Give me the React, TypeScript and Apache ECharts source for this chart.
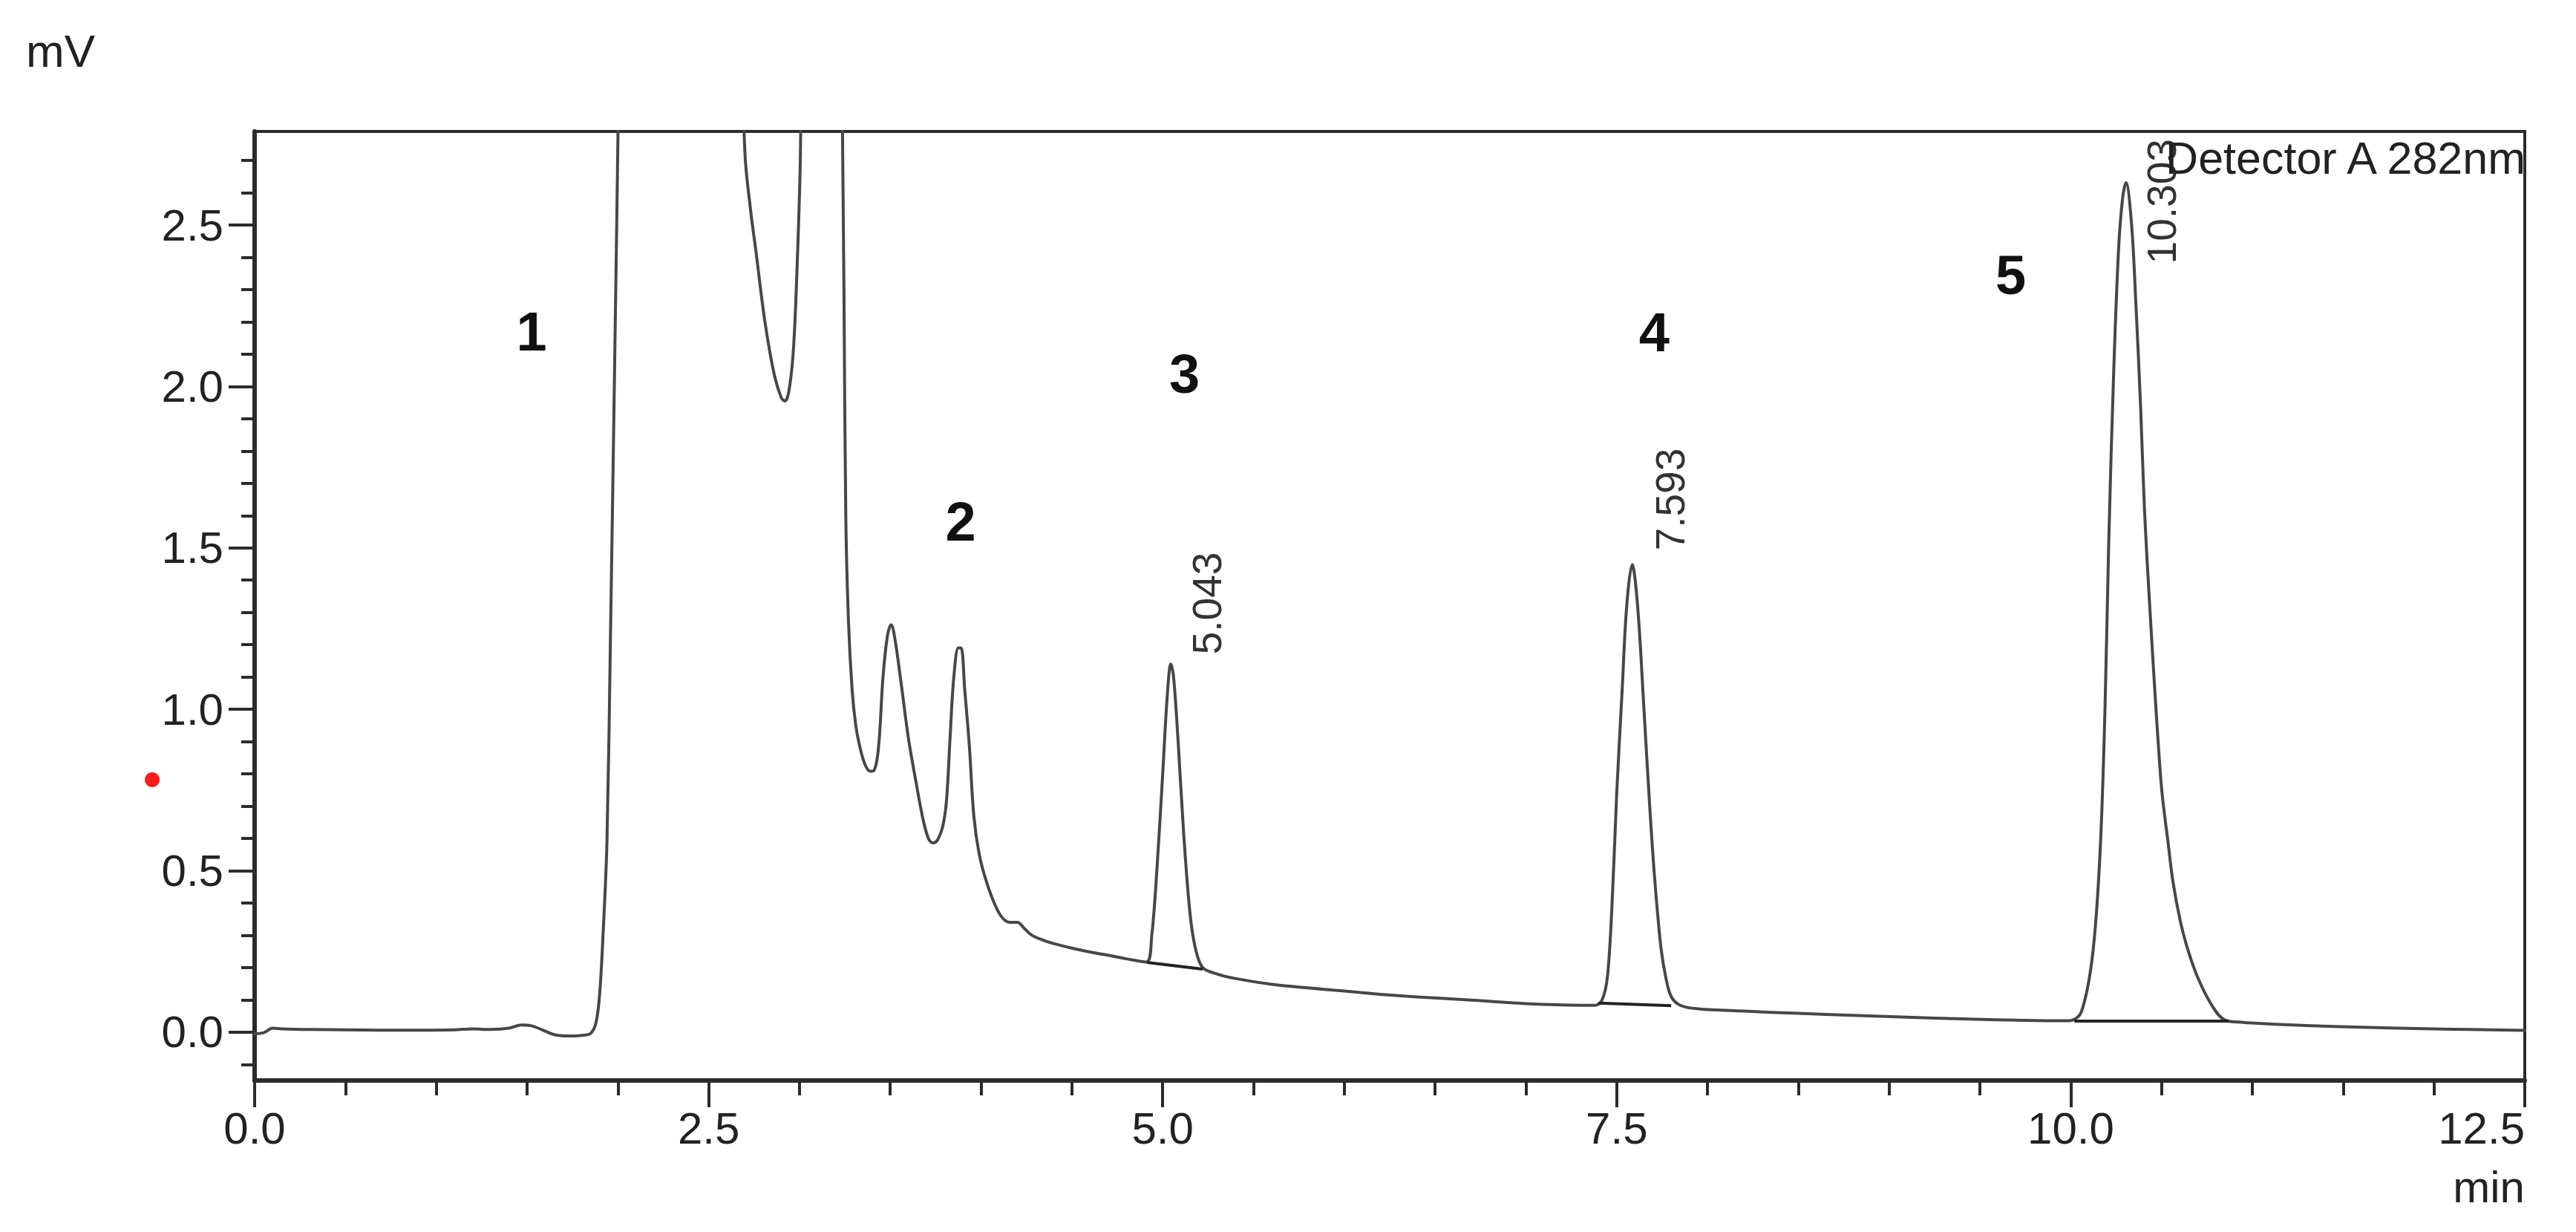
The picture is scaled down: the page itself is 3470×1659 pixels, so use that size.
import React, { useEffect, useRef } from "react";
import * as echarts from "echarts";

// Chromatogram trace (time in min, signal in mV)
const times = [
  0.0, 0.05, 0.1, 0.15, 0.3, 0.5, 0.7, 0.9, 1.1, 1.2, 1.3, 1.4, 1.47, 1.52, 1.58, 1.65, 1.72, 1.8, 1.85,
  1.88, 1.9, 1.92, 1.94, 1.96, 1.98, 2.0, 2.02, 2.1, 2.4, 2.62, 2.67, 2.7, 2.73, 2.76, 2.81, 2.86, 2.9,
  2.92, 2.94, 2.965, 2.985, 3.005, 3.02, 3.1, 3.2, 3.235, 3.245, 3.255, 3.27, 3.29, 3.31, 3.33, 3.36,
  3.39, 3.41, 3.435, 3.46, 3.485, 3.505, 3.525, 3.56, 3.6, 3.64, 3.68, 3.71, 3.735, 3.76, 3.79, 3.81,
  3.83, 3.85, 3.875, 3.89, 3.91, 3.935, 3.96, 3.99, 4.03, 4.08, 4.12, 4.16, 4.2, 4.24, 4.28, 4.34, 4.4,
  4.5, 4.6, 4.7, 4.8, 4.91, 4.94, 4.97, 5.0, 5.025, 5.045, 5.06, 5.085, 5.115, 5.15, 5.18, 5.22, 5.3,
  5.4, 5.6, 5.8, 6.0, 6.2, 6.4, 6.7, 7.0, 7.2, 7.38, 7.42, 7.45, 7.477, 7.5, 7.53, 7.555, 7.585, 7.615,
  7.65, 7.68, 7.707, 7.743, 7.77, 7.8, 7.85, 7.95, 8.2, 8.5, 8.8, 9.1, 9.4, 9.7, 9.95, 10.0, 10.059,
  10.12, 10.161, 10.188, 10.209, 10.236, 10.263, 10.285, 10.304, 10.334, 10.358, 10.385, 10.406, 10.433,
  10.461, 10.481, 10.502, 10.536, 10.563, 10.604, 10.645, 10.7, 10.78, 10.85, 10.95, 11.1, 11.3, 11.6,
  12.0, 12.5,
];
const values = [
  -0.005, -0.002, 0.012, 0.01, 0.008, 0.007, 0.006, 0.006, 0.007, 0.01, 0.008, 0.012, 0.022, 0.02, 0.008,
  -0.008, -0.012, -0.01, -0.004, 0.03, 0.12, 0.32, 0.59, 1.25, 1.98, 2.75, 3.6, 6, 8, 5, 3.3, 2.72, 2.55,
  2.42, 2.2, 2.04, 1.965, 1.955, 1.98, 2.1, 2.34, 2.71, 3.4, 6, 5, 2.9, 2.3, 1.6, 1.27, 1.06, 0.95, 0.89,
  0.83, 0.808, 0.81, 0.88, 1.1, 1.23, 1.262, 1.22, 1.08, 0.91, 0.78, 0.66, 0.6, 0.586, 0.595, 0.64, 0.72,
  0.92, 1.1, 1.19, 1.19, 1.06, 0.89, 0.67, 0.55, 0.465, 0.39, 0.352, 0.34, 0.34, 0.32, 0.3, 0.285, 0.274,
  0.26, 0.248, 0.238, 0.227, 0.217, 0.3, 0.52, 0.8, 1.04, 1.14, 1.1, 0.9, 0.62, 0.37, 0.26, 0.2, 0.18,
  0.166, 0.148, 0.137, 0.127, 0.117, 0.109, 0.099, 0.088, 0.084, 0.083, 0.1, 0.177, 0.43, 0.74, 1.06,
  1.32, 1.448, 1.32, 1.0, 0.715, 0.49, 0.264, 0.17, 0.11, 0.083, 0.072, 0.065, 0.058, 0.052, 0.046, 0.041,
  0.037, 0.035, 0.036, 0.063, 0.238, 0.552, 0.989, 1.513, 2.037, 2.421, 2.58, 2.631, 2.509, 2.264, 1.932,
  1.618, 1.338, 1.076, 0.901, 0.744, 0.587, 0.465, 0.342, 0.255, 0.168, 0.08, 0.037, 0.03, 0.025, 0.02,
  0.015, 0.01, 0.005,
];

// Integration baselines drawn under peaks 3, 4 and 5: [t1, v1, t2, v2]
const baselineSegments = [
  [4.914, 0.216, 5.22, 0.195],
  [7.4, 0.09, 7.8, 0.082],
  [10.02, 0.034, 10.87, 0.034],
];

// Retention-time labels
const rtTexts = ["5.043", "7.593", "10.303"];
const rtTimes = [5.043, 7.593, 10.303];
const rtHeights = [1.14, 1.448, 2.635];

// Peak numbers
const peakNumbers = ["1", "2", "3", "4", "5"];
const peakNumberTimes = [1.525, 3.888, 5.12, 7.707, 9.67];
const peakNumberValues = [2.17, 1.58, 2.04, 2.168, 2.345];

// Axis ticks
const yMajorTicks = [0, 0.5, 1.0, 1.5, 2.0, 2.5];
const yMinorTicks = [
  -0.1, 0.1, 0.2, 0.3, 0.4, 0.6, 0.7, 0.8, 0.9, 1.1, 1.2, 1.3, 1.4, 1.6, 1.7, 1.8, 1.9, 2.1, 2.2, 2.3,
  2.4, 2.6, 2.7,
];

const W = 3470;
const H = 1659;
const AXIS = "#2b2b2b";
const FONT = "Liberation Sans, Arial, sans-serif";

// label pixel offsets from the peak apex (x right, y down)
const rtOffsets = [
  [49, -13],
  [49, -19],
  [48, 111],
];

export default function App() {
  const ref = useRef<HTMLDivElement>(null);

  useEffect(() => {
    if (!ref.current) return;
    const chart = echarts.init(ref.current, null, { renderer: "svg", width: W, height: H });
    const trace = times.map((t, i) => [t, values[i]]);

    const option: any = {
      animation: false,
      backgroundColor: "#ffffff",
      grid: {
        left: 343,
        top: 177,
        width: 3058,
        height: 1278,
        show: true,
        borderColor: AXIS,
        borderWidth: 4,
        backgroundColor: "transparent",
      },
      xAxis: {
        type: "value",
        min: 0,
        max: 12.5,
        interval: 2.5,
        axisLine: { show: true, onZero: false, lineStyle: { color: AXIS, width: 6 } },
        axisTick: { show: true, inside: false, length: 36, lineStyle: { color: AXIS, width: 4 } },
        minorTick: { show: true, splitNumber: 5, length: 20, lineStyle: { color: AXIS, width: 4 } },
        axisLabel: {
          show: true,
          margin: 34,
          fontSize: 60,
          fontFamily: FONT,
          color: "#222",
          alignMaxLabel: "right",
          formatter: (v: number) => v.toFixed(1),
        },
        splitLine: { show: false },
        minorSplitLine: { show: false },
      },
      yAxis: [
        {
          type: "value",
          min: -0.15,
          max: 2.79,
          position: "left",
          axisLine: { show: true, onZero: false, lineStyle: { color: AXIS, width: 6 } },
          axisTick: {
            show: true,
            length: 35,
            customValues: yMajorTicks,
            lineStyle: { color: AXIS, width: 4 },
          },
          axisLabel: {
            show: true,
            margin: 42,
            fontSize: 60,
            fontFamily: FONT,
            color: "#222",
            customValues: yMajorTicks,
            formatter: (v: number) => v.toFixed(1),
          },
          splitLine: { show: false },
        },
        {
          type: "value",
          min: -0.15,
          max: 2.79,
          position: "left",
          offset: 0,
          axisLine: { show: false },
          axisTick: {
            show: true,
            length: 18,
            customValues: yMinorTicks,
            lineStyle: { color: AXIS, width: 4 },
          },
          axisLabel: { show: false },
          splitLine: { show: false },
        },
      ],
      series: [
        {
          type: "line",
          data: trace,
          showSymbol: false,
          symbol: "none",
          smooth: 0.35,
          clip: true,
          lineStyle: { color: "#474747", width: 4, join: "round", cap: "round" },
          z: 3,
        },
        ...baselineSegments.map((s) => ({
          type: "line",
          data: [
            [s[0], s[1]],
            [s[2], s[3]],
          ],
          showSymbol: false,
          symbol: "none",
          lineStyle: { color: "#222222", width: 4 },
          z: 4,
        })),
      ],
    };
    chart.setOption(option);

    const px = (t: number, v: number) =>
      chart.convertToPixel({ seriesIndex: 0 }, [t, v]) as number[];

    const graphics: any[] = [
      {
        type: "text",
        x: 35,
        y: 68,
        style: {
          text: "mV",
          font: `62px ${FONT}`,
          fill: "#222",
          align: "left",
          verticalAlign: "middle",
        },
      },
      {
        type: "text",
        x: 3402,
        y: 213,
        z: 10,
        style: {
          text: "Detector A 282nm",
          font: `61px ${FONT}`,
          fill: "#222",
          align: "right",
          verticalAlign: "middle",
        },
      },
      {
        type: "text",
        x: 3401,
        y: 1598,
        style: {
          text: "min",
          font: `60px ${FONT}`,
          fill: "#222",
          align: "right",
          verticalAlign: "middle",
        },
      },
      {
        type: "circle",
        shape: { cx: 205, cy: 1050, r: 10 },
        style: { fill: "#ff1a1a" },
      },
    ];

    rtTexts.forEach((txt, i) => {
      const p = px(rtTimes[i], rtHeights[i]);
      graphics.push({
        type: "text",
        x: p[0] + rtOffsets[i][0],
        y: p[1] + rtOffsets[i][1],
        rotation: Math.PI / 2,
        z: 9,
        style: {
          text: txt,
          font: `55px ${FONT}`,
          fill: "#333",
          align: "left",
          verticalAlign: "middle",
        },
      });
    });

    peakNumbers.forEach((txt, i) => {
      const p = px(peakNumberTimes[i], peakNumberValues[i]);
      graphics.push({
        type: "text",
        x: p[0],
        y: p[1],
        style: {
          text: txt,
          font: `bold 74px ${FONT}`,
          fill: "#111",
          align: "center",
          verticalAlign: "middle",
        },
      });
    });

    chart.setOption({ graphic: graphics });

    return () => chart.dispose();
  }, []);

  return (
    <div
      ref={ref}
      style={{ position: "absolute", left: 0, top: 0, width: W, height: H, background: "#fff" }}
    />
  );
}
